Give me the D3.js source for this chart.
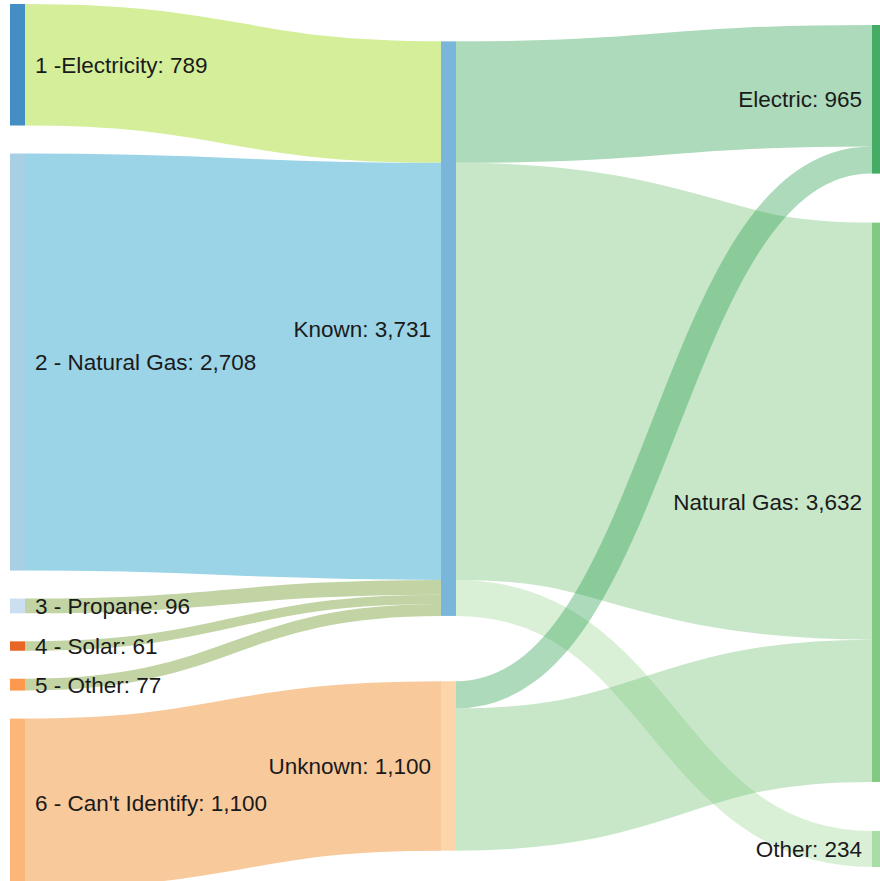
<!DOCTYPE html>
<html>
<head>
<meta charset="utf-8">
<script src="https://d3js.org/d3.v7.min.js"></script>
<style>
  body { margin: 0; background: #fff; }
  .label { font-family: "Liberation Sans", Arial, sans-serif; font-size: 22.5px; fill: #1a1a1a; }
</style>
</head>
<body>
<script>
// node names, in the order the links refer to them
var nodeNames = ["1 -Electricity", "2 - Natural Gas", "3 - Propane", "4 - Solar", "5 - Other",
  "6 - Can't Identify", "Known", "Unknown", "Electric", "Natural Gas", "Other"]
var nodeColors = ["#3182bd", "#9ecae1", "#c6dbef", "#e6550d", "#fd8d3c",
  "#fdae6b", "#6baed6", "#fdd0a2", "#31a354", "#74c476", "#a1d99b"]

// links: source index, target index, value
var linkSources = [0, 1, 2, 3, 4, 5, 6, 6, 6, 7, 7]
var linkTargets = [6, 6, 6, 6, 6, 7, 8, 9, 10, 8, 9]
var linkValues = [789, 2708, 96, 61, 77, 1100, 789, 2708, 234, 176, 924]
// first-stage links carry their own colour, second-stage ones take the target's
var stageOneColors = ["#d4ee9a", "#9bd4e7", "#c2d3a4", "#c2d3a4", "#c2d3a4", "#f7c99b"]

var width = 880, height = 881

var svg = d3.select("body").append("svg")
  .attr("width", width)
  .attr("height", height)

// sankey layout, same as d3-sankey with iterations(0) and nodeSort(null)
// (d3-sankey isn't part of the d3 bundle)
function sankey(nodes, links, x0, y0, x1, y1, dx, padding) {
  nodes.forEach((n, i) => { n.index = i; n.sourceLinks = []; n.targetLinks = [] })
  links.forEach((l, i) => {
    l.index = i
    l.source = nodes[l.source]; l.target = nodes[l.target]
    l.source.sourceLinks.push(l); l.target.targetLinks.push(l)
  })
  nodes.forEach(n => {
    n.value = Math.max(d3.sum(n.sourceLinks, l => l.value), d3.sum(n.targetLinks, l => l.value))
  })
  // depth = longest path from a source
  var current = nodes.filter(n => !n.targetLinks.length), depth = 0
  while (current.length) {
    var next = new Set()
    current.forEach(n => { n.layer = depth; n.sourceLinks.forEach(l => next.add(l.target)) })
    current = Array.from(next); depth++
  }
  var maxLayer = d3.max(nodes, n => n.layer)
  var kx = (x1 - x0 - dx) / maxLayer
  nodes.forEach(n => { n.x0 = x0 + n.layer * kx; n.x1 = n.x0 + dx })
  var columns = d3.range(maxLayer + 1).map(k => nodes.filter(n => n.layer === k))

  var py = Math.min(padding, (y1 - y0) / (d3.max(columns, c => c.length) - 1))
  var ky = d3.min(columns, c => (y1 - y0 - (c.length - 1) * py) / d3.sum(c, n => n.value))

  // stack each column, then spread the spare room evenly
  columns.forEach(col => {
    var y = y0
    col.forEach(n => {
      n.y0 = y; n.y1 = y + n.value * ky; y = n.y1 + py
      n.sourceLinks.forEach(l => { l.width = l.value * ky })
    })
    y = (y1 - y + py) / (col.length + 1)
    col.forEach((n, i) => { n.y0 += y * (i + 1); n.y1 += y * (i + 1) })
  })

  var byY = (a, b) => a.y0 - b.y0
  nodes.forEach(n => {
    n.sourceLinks.sort((a, b) => byY(a.target, b.target) || a.index - b.index)
    n.targetLinks.sort((a, b) => byY(a.source, b.source) || a.index - b.index)
    var a = n.y0, b = n.y0
    n.sourceLinks.forEach(l => { l.y0 = a + l.width / 2; a += l.width })
    n.targetLinks.forEach(l => { l.y1 = b + l.width / 2; b += l.width })
  })
}

var nodes = nodeNames.map((name, i) => ({name: name, color: nodeColors[i]}))
var links = linkValues.map((v, i) => ({source: linkSources[i], target: linkTargets[i], value: v}))

sankey(nodes, links, 10, 4, 887, 888, 15, 28)

var fmt = d3.format(",")
var linkPath = d3.linkHorizontal()
  .source(d => [d.source.x1, d.y0])
  .target(d => [d.target.x0, d.y1])

svg.append("g")
  .attr("fill", "none")
  .selectAll("path")
  .data(links)
  .enter().append("path")
  .attr("d", linkPath)
  .attr("stroke", (d, i) => i < stageOneColors.length ? stageOneColors[i] : d.target.color)
  .attr("stroke-opacity", (d, i) => i < stageOneColors.length ? 1 : 0.4)
  .attr("stroke-width", d => Math.max(1, d.width))

svg.append("g")
  .selectAll("rect")
  .data(nodes)
  .enter().append("rect")
  .attr("x", d => d.x0)
  .attr("y", d => d.y0)
  .attr("width", d => d.x1 - d.x0)
  .attr("height", d => d.y1 - d.y0)
  .attr("fill", d => d.color)
  .attr("fill-opacity", 0.9)

svg.append("g")
  .selectAll("text")
  .data(nodes)
  .enter().append("text")
  .attr("class", "label")
  .attr("x", d => d.x0 < width / 2 ? d.x1 + 10 : d.x0 - 10)
  .attr("y", d => (d.y0 + d.y1) / 2)
  .attr("dy", "0.35em")
  .attr("text-anchor", d => d.x0 < width / 2 ? "start" : "end")
  .text(d => d.name + ": " + fmt(d.value))
</script>
</body>
</html>
